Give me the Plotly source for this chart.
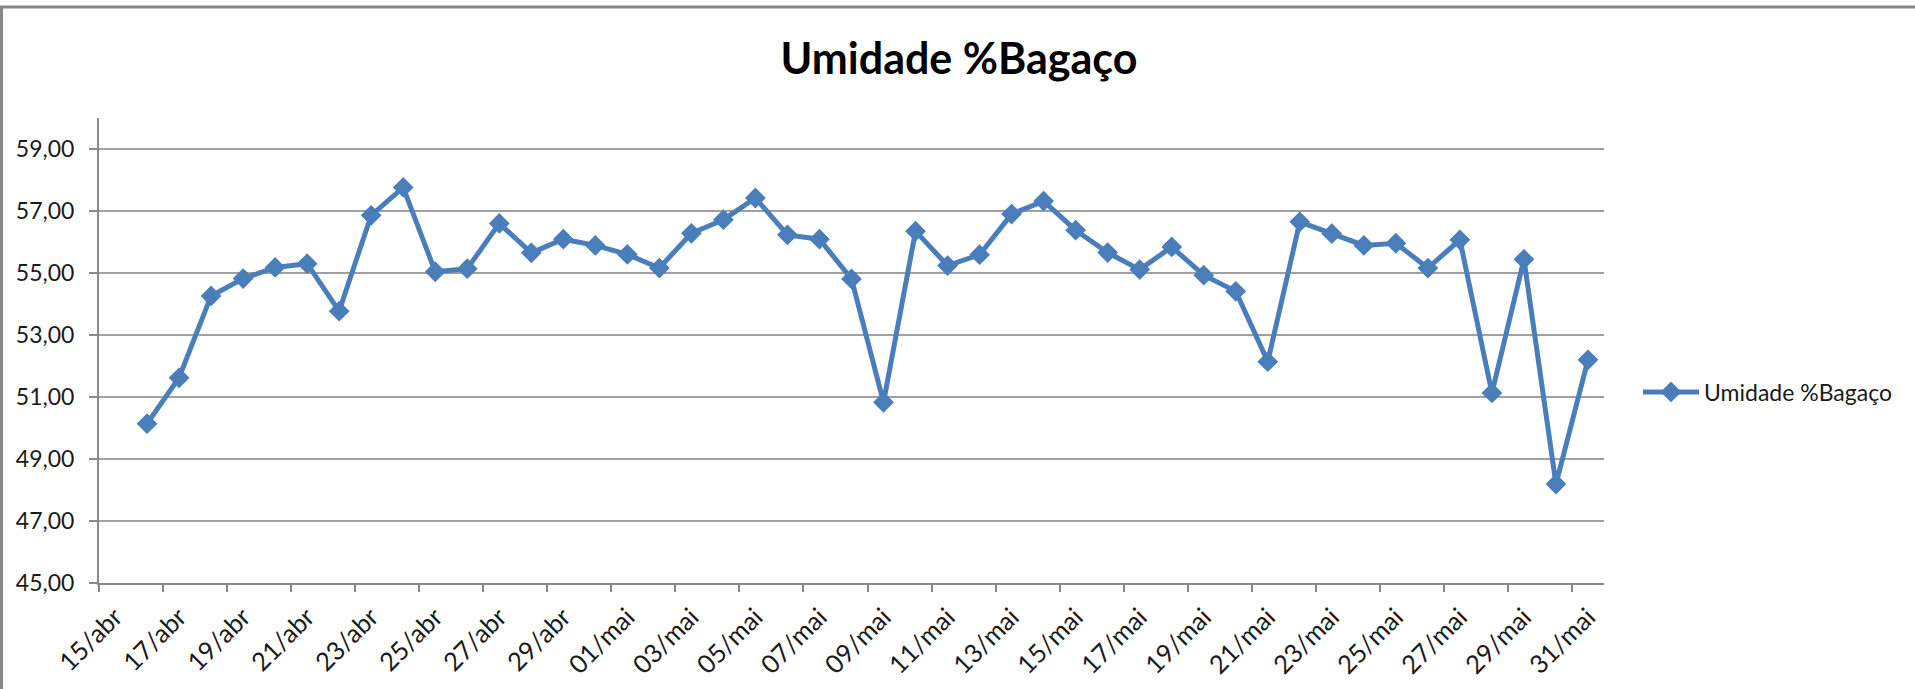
import plotly.graph_objects as go
import pandas as pd

# ---- data ----
series_name = "Umidade %Bagaço"
dates = pd.date_range("2013-04-16 12:00", periods=46, freq="D")
values = [
    50.14, 51.62, 54.26, 54.82, 55.18, 55.30, 53.77, 56.86, 57.76, 55.04,
    55.14, 56.60, 55.65, 56.09, 55.89,
    55.60, 55.16, 56.28, 56.72, 57.42, 56.23, 56.09, 54.81, 50.83, 56.35,
    55.24, 55.59, 56.90, 57.32, 56.38, 55.66, 55.11, 55.84, 54.93, 54.41,
    52.14, 56.65, 56.27, 55.89, 55.96, 55.16, 56.07, 51.13, 55.44, 48.19,
    52.20,
]
tick_dates = pd.date_range("2013-04-15", "2013-05-31", freq="2D")
tick_labels = [
    "15/abr", "17/abr", "19/abr", "21/abr", "23/abr", "25/abr", "27/abr", "29/abr",
    "01/mai", "03/mai", "05/mai", "07/mai", "09/mai", "11/mai", "13/mai", "15/mai",
    "17/mai", "19/mai", "21/mai", "23/mai", "25/mai", "27/mai", "29/mai", "31/mai",
]
x_range = ["2013-04-15", "2013-06-01"]
y_range = [45, 60]

W, H = 1915, 689
ML, MR, MT, MB = 99, 311, 118, 106
PW, PH = W - ML - MR, H - MT - MB

FONT = "Lato, 'Open Sans', sans-serif"
LINE_COLOR = "#4a7ebb"
TEXT = "#1a1a1a"

fig = go.Figure()
fig.add_trace(go.Scatter(
    x=dates, y=values, name=series_name, mode="lines+markers",
    line=dict(color=LINE_COLOR, width=5),
    marker=dict(symbol="diamond", size=16, color=LINE_COLOR),
))

def px_x(p):
    return (p - ML) / PW

def px_y(p):
    return (H - MB - p) / PH

fig.update_layout(
    width=W, height=H,
    margin=dict(l=ML, r=MR, t=MT, b=MB, autoexpand=False),
    paper_bgcolor="white", plot_bgcolor="white",
    separators=",.",
    font=dict(family=FONT, color=TEXT, size=24),
    title=dict(text="<b>Umidade %Bagaço</b>", x=959 / W, xanchor="center",
               y=1 - 59 / H, yanchor="middle", yref="container", xref="container",
               font=dict(family=FONT, size=43, color="#000000")),
    showlegend=True,
    legend=dict(x=px_x(1638), xanchor="left", y=px_y(392), yanchor="middle",
                font=dict(family=FONT, size=23, color=TEXT),
                bgcolor="rgba(0,0,0,0)", itemwidth=56),
    xaxis=dict(
        range=x_range, tickmode="array", tickvals=tick_dates, ticktext=tick_labels,
        tickangle=-45, ticks="outside", ticklen=7, tickwidth=2, tickcolor="#888888",
        showline=True, linecolor="#888888", linewidth=2, showgrid=False,
        ticklabelshift=16, tickfont=dict(family=FONT, size=25.5, color=TEXT),
        zeroline=False,
    ),
    yaxis=dict(
        range=y_range, tick0=45, dtick=2, tickformat=".2f",
        ticks="outside", ticklen=8, tickwidth=2, tickcolor="#888888",
        showline=True, linecolor="#888888", linewidth=2,
        showgrid=True, gridcolor="#a0a0a0", gridwidth=2,
        zeroline=False, tickfont=dict(family=FONT, size=23, color=TEXT),
        ticklabelstandoff=10,
    ),
    shapes=[dict(type="rect", xref="paper", yref="paper",
                 x0=px_x(1.5), x1=px_x(W + 10), y0=px_y(H + 10), y1=px_y(7),
                 line=dict(color="#878787", width=3), fillcolor="rgba(0,0,0,0)",
                 layer="below")],
)

fig.write_html(
    "out.html",
    config={"displayModeBar": False},
    post_script="document.body.style.margin='0';document.body.style.overflow='hidden';",
)
